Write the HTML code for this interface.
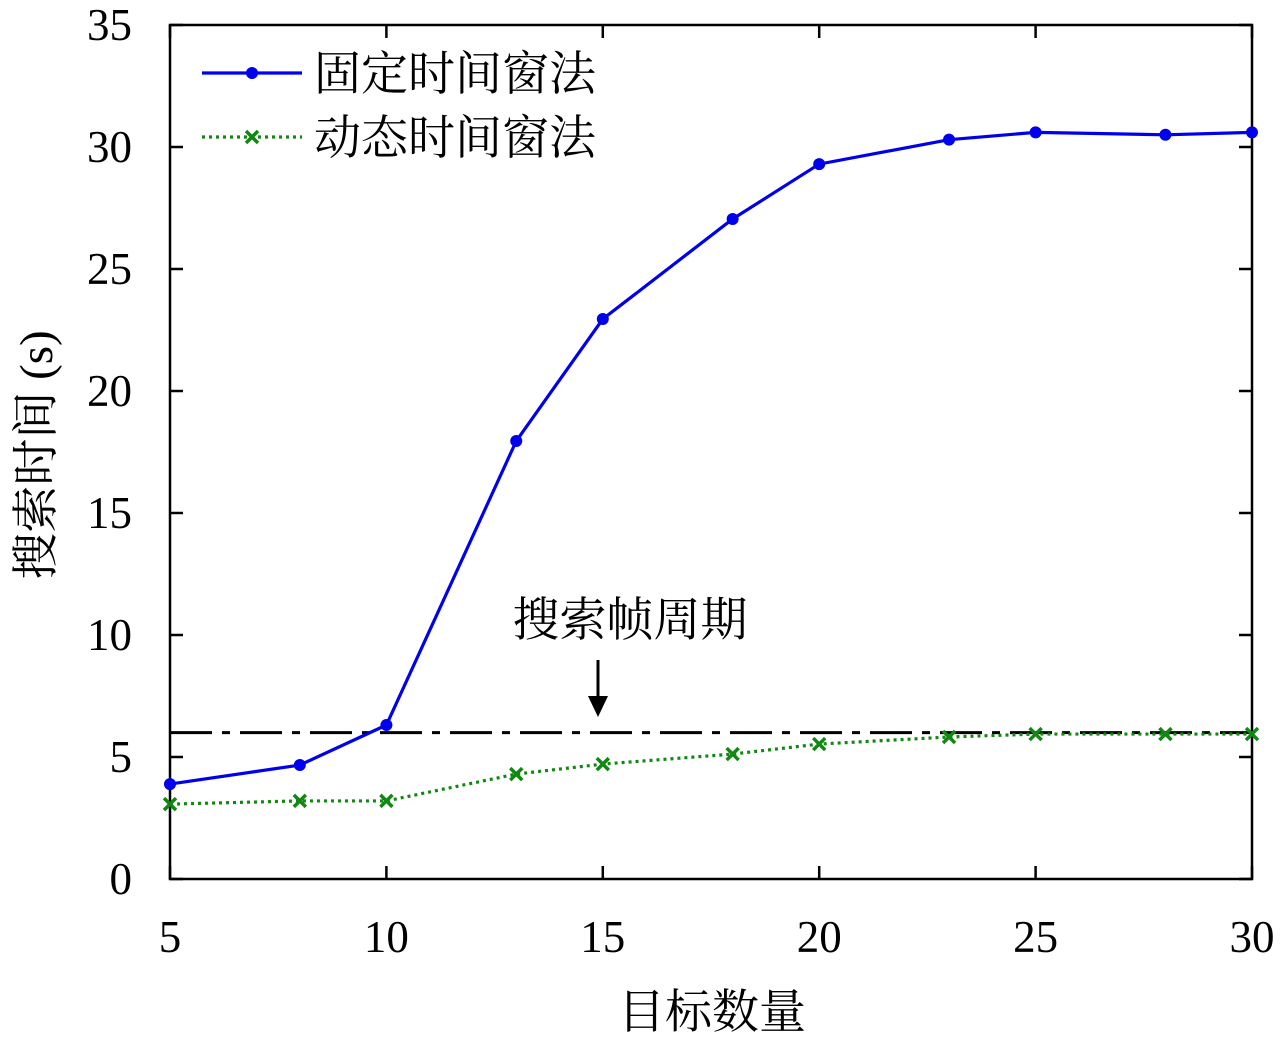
<!DOCTYPE html>
<html><head><meta charset="utf-8"><style>
body{margin:0;background:#fff;}
svg{display:block;font-family:"Liberation Serif","Noto Serif CJK SC",serif;}
</style></head><body>
<svg id="chart" width="1280" height="1037">
<g id="axes"></g><g id="series"></g>
</svg>
<script>
const xCats=[5,8,10,13,15,18,20,23,25,28,30];
const fixedVals=[3.89,4.67,6.31,17.95,22.95,27.05,29.3,30.3,30.6,30.5,30.6];
const dynVals=[3.07,3.2,3.2,4.3,4.71,5.12,5.53,5.82,5.94,5.94,5.94];
const xTicks=[5,10,15,20,25,30];
const yTicks=[0,5,10,15,20,25,30,35];
const periodVal=6;
const NS='http://www.w3.org/2000/svg';
const L=170,R=1252,T=25,B=879;
const xs=v=>L+(v-5)/(30-5)*(R-L);
const ys=v=>B-v/35*(B-T);
const axes=document.getElementById('axes'),ser=document.getElementById('series');
function mk(p,tag,attrs,txt){const e=document.createElementNS(NS,tag);for(const k in attrs)e.setAttribute(k,attrs[k]);if(txt!==undefined)e.textContent=txt;p.appendChild(e);return e;}
let f=mk(axes,'rect',{x:L,y:T,width:R-L,height:B-T,fill:'none',stroke:'#000','stroke-width':2.5});


xTicks.forEach(v=>{const x=xs(v);
mk(axes,'line',{x1:x,y1:B,x2:x,y2:B-13,stroke:'#000','stroke-width':2.5});
mk(axes,'line',{x1:x,y1:T,x2:x,y2:T+13,stroke:'#000','stroke-width':2.5});
let t=mk(axes,'text',{x:x,y:952,'font-size':45,'text-anchor':'middle'},v);

});
yTicks.forEach(v=>{const y=ys(v);
mk(axes,'line',{x1:L,y1:y,x2:L+13,y2:y,stroke:'#000','stroke-width':2.5});
mk(axes,'line',{x1:R,y1:y,x2:R-13,y2:y,stroke:'#000','stroke-width':2.5});
let t=mk(axes,'text',{x:132,y:y+15,'font-size':45,'text-anchor':'end'},v);

});
let xt=mk(axes,'text',{x:712,y:1028,'font-size':47,'text-anchor':'middle'},'目标数量');


let yt=mk(axes,'text',{x:0,y:0,'font-size':47,'text-anchor':'middle',transform:'translate(52,455) rotate(-90)'},'搜索时间 (s)');


let ref=mk(ser,'line',{x1:L,y1:ys(periodVal),x2:R,y2:ys(periodVal),stroke:'#000','stroke-width':3,'stroke-dasharray':'42,10,8,10'});


let ar=mk(ser,'line',{x1:598,y1:660,x2:598,y2:700,stroke:'#000','stroke-width':3});


mk(ser,'polygon',{points:'588,696 608,696 598,717',fill:'#000'});
let an=mk(ser,'text',{x:630,y:636,'font-size':47,'text-anchor':'middle'},'搜索帧周期');


let p1=mk(ser,'polyline',{points:xCats.map((c,i)=>xs(c)+','+ys(fixedVals[i])).join(' '),fill:'none',stroke:'#0000ee','stroke-width':3.2});


xCats.forEach((c,i)=>{let d=mk(ser,'circle',{cx:xs(c),cy:ys(fixedVals[i]),r:6,fill:'#0000ee'});

});
let p2=mk(ser,'polyline',{points:xCats.map((c,i)=>xs(c)+','+ys(dynVals[i])).join(' '),fill:'none',stroke:'#118811','stroke-width':3.2,'stroke-dasharray':'3,4'});


function cross(x,y){const g=mk(ser,'path',{d:`M${x-6},${y-6}L${x+6},${y+6}M${x-6},${y+6}L${x+6},${y-6}`,stroke:'#118811','stroke-width':3.5});return g;}
xCats.forEach((c,i)=>{let d=cross(xs(c),ys(dynVals[i]));

});
let lg=mk(ser,'g',{});


mk(lg,'line',{x1:202,y1:73,x2:302,y2:73,stroke:'#0000ee','stroke-width':3.2});
mk(lg,'circle',{cx:252,cy:73,r:6,fill:'#0000ee'});
mk(lg,'text',{x:314,y:90,'font-size':47},'固定时间窗法');
mk(lg,'line',{x1:202,y1:137,x2:302,y2:137,stroke:'#118811','stroke-width':3.2,'stroke-dasharray':'3,4'});
let c=cross(252,137);lg.appendChild(c);
mk(lg,'text',{x:314,y:154,'font-size':47},'动态时间窗法');
</script>
</body></html>
